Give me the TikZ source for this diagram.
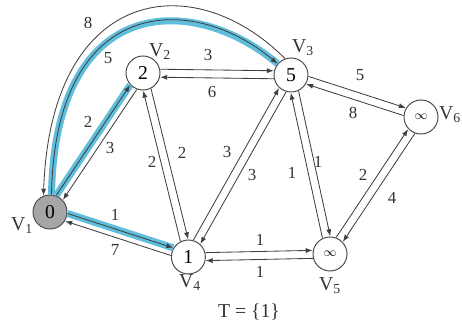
\documentclass[tikz,border=0pt]{standalone}
\usepackage{fontspec}
\setmainfont{Liberation Serif}
\usetikzlibrary{arrows.meta,calc}
\definecolor{hl}{RGB}{95,190,220}
\tikzset{
  vtx/.style={circle, draw=black!70, line width=0.7pt, fill=white, minimum size=0.85cm, inner sep=0pt, font=\fontsize{14}{14}\selectfont},
  wt/.style={font=\fontsize{12}{12}\selectfont, text=black!80},
  vname/.style={font=\fontsize{14}{14}\selectfont, text=black!80},
  ln/.style={draw=black!75, line width=0.6pt},
  par/.style={to path={($(\tikztostart)!0.43cm!(\tikztotarget)!0.1cm!90:(\tikztotarget)$) -- ($(\tikztotarget)!0.43cm!(\tikztostart)!0.1cm!-90:(\tikztostart)$) \tikztonodes}},
  hot/.style={preaction={draw=hl, line width=5pt, -}}
}
\newcommand{\inftyval}{{\fontsize{9}{9}\selectfont$\infty$}}
\begin{document}
\begin{tikzpicture}[>={Latex[length=5pt,width=3.6pt]}]
\useasboundingbox (0,0) rectangle (11.55,8.325);
% vertices
\node[vtx, fill=black!35] (v1) at (1.25,3.025) {0};
\node[vtx] (v2) at (3.575,6.5) {2};
\node[vtx] (v3) at (7.275,6.45) {5};
\node[vtx] (v4) at (4.71,1.9) {1};
\node[vtx] (v5) at (8.25,1.975) {\inftyval};
\node[vtx] (v6) at (10.525,5.4) {\inftyval};
\node[vname] (n1) at (0.55,2.675) {V\textsubscript{1}};
\node[vname] (n2) at (4.0,7.025) {V\textsubscript{2}};
\node[vname] (n3) at (7.575,7.125) {V\textsubscript{3}};
\node[vname] (n4) at (4.75,1.25) {V\textsubscript{4}};
\node[vname] (n5) at (8.25,1.175) {V\textsubscript{5}};
\node[vname] (n6) at (11.25,5.45) {V\textsubscript{6}};
\node[vname] (tset) at (6.225,0.525) {T = \{1\}};
% the long way round
\draw[ln, ->] (v3.110) .. controls +(135:3.3) and +(88:5.2) .. (v1.112) node[wt] at (2.2,7.75) {8};
\draw[ln, hot, ->] (v1.85) .. controls +(89:5) and +(140:2.8) .. (v3.140) node[wt] at (2.7,6.875) {5};
% edges in pairs
\draw[ln, hot, ->] (v1) to[par] (v2) node[wt] at (2.2,5.275) {2};
\draw[ln, ->] (v2) to[par] (v1) node[wt] at (2.75,4.625) {3};
\draw[ln, ->] (v2) to[par] (v3) node[wt] at (5.2,6.95) {3};
\draw[ln, ->] (v3) to[par] (v2) node[wt] at (5.3,6.025) {6};
\draw[ln, ->] (v2) to[par] (v4) node[wt] at (4.55,4.5) {2};
\draw[ln, ->] (v4) to[par] (v2) node[wt] at (3.8,4.275) {2};
\draw[ln, ->] (v4) to[par] (v3) node[wt] at (5.675,4.525) {3};
\draw[ln, ->] (v3) to[par] (v4) node[wt] at (6.3,3.95) {3};
\draw[ln, ->] (v3) to[par] (v6) node[wt] at (9.0,6.45) {5};
\draw[ln, ->] (v6) to[par] (v3) node[wt] at (8.825,5.5) {8};
\draw[ln, ->] (v3) to[par] (v5) node[wt] at (7.95,4.275) {1};
\draw[ln, ->] (v5) to[par] (v3) node[wt] at (7.3,4.0) {1};
\draw[ln, ->] (v5) to[par] (v6) node[wt] at (9.075,3.95) {2};
\draw[ln, ->] (v6) to[par] (v5) node[wt] at (9.8,3.375) {4};
\draw[ln, ->] (v4) to[par] (v5) node[wt] at (6.5,2.325) {1};
\draw[ln, ->] (v5) to[par] (v4) node[wt] at (6.5,1.525) {1};
\draw[ln, hot, ->] (v1) to[par] (v4) node[wt] at (2.875,2.95) {1};
\draw[ln, ->] (v4) to[par] (v1) node[wt] at (2.875,2.075) {7};
\end{tikzpicture}
\end{document}
